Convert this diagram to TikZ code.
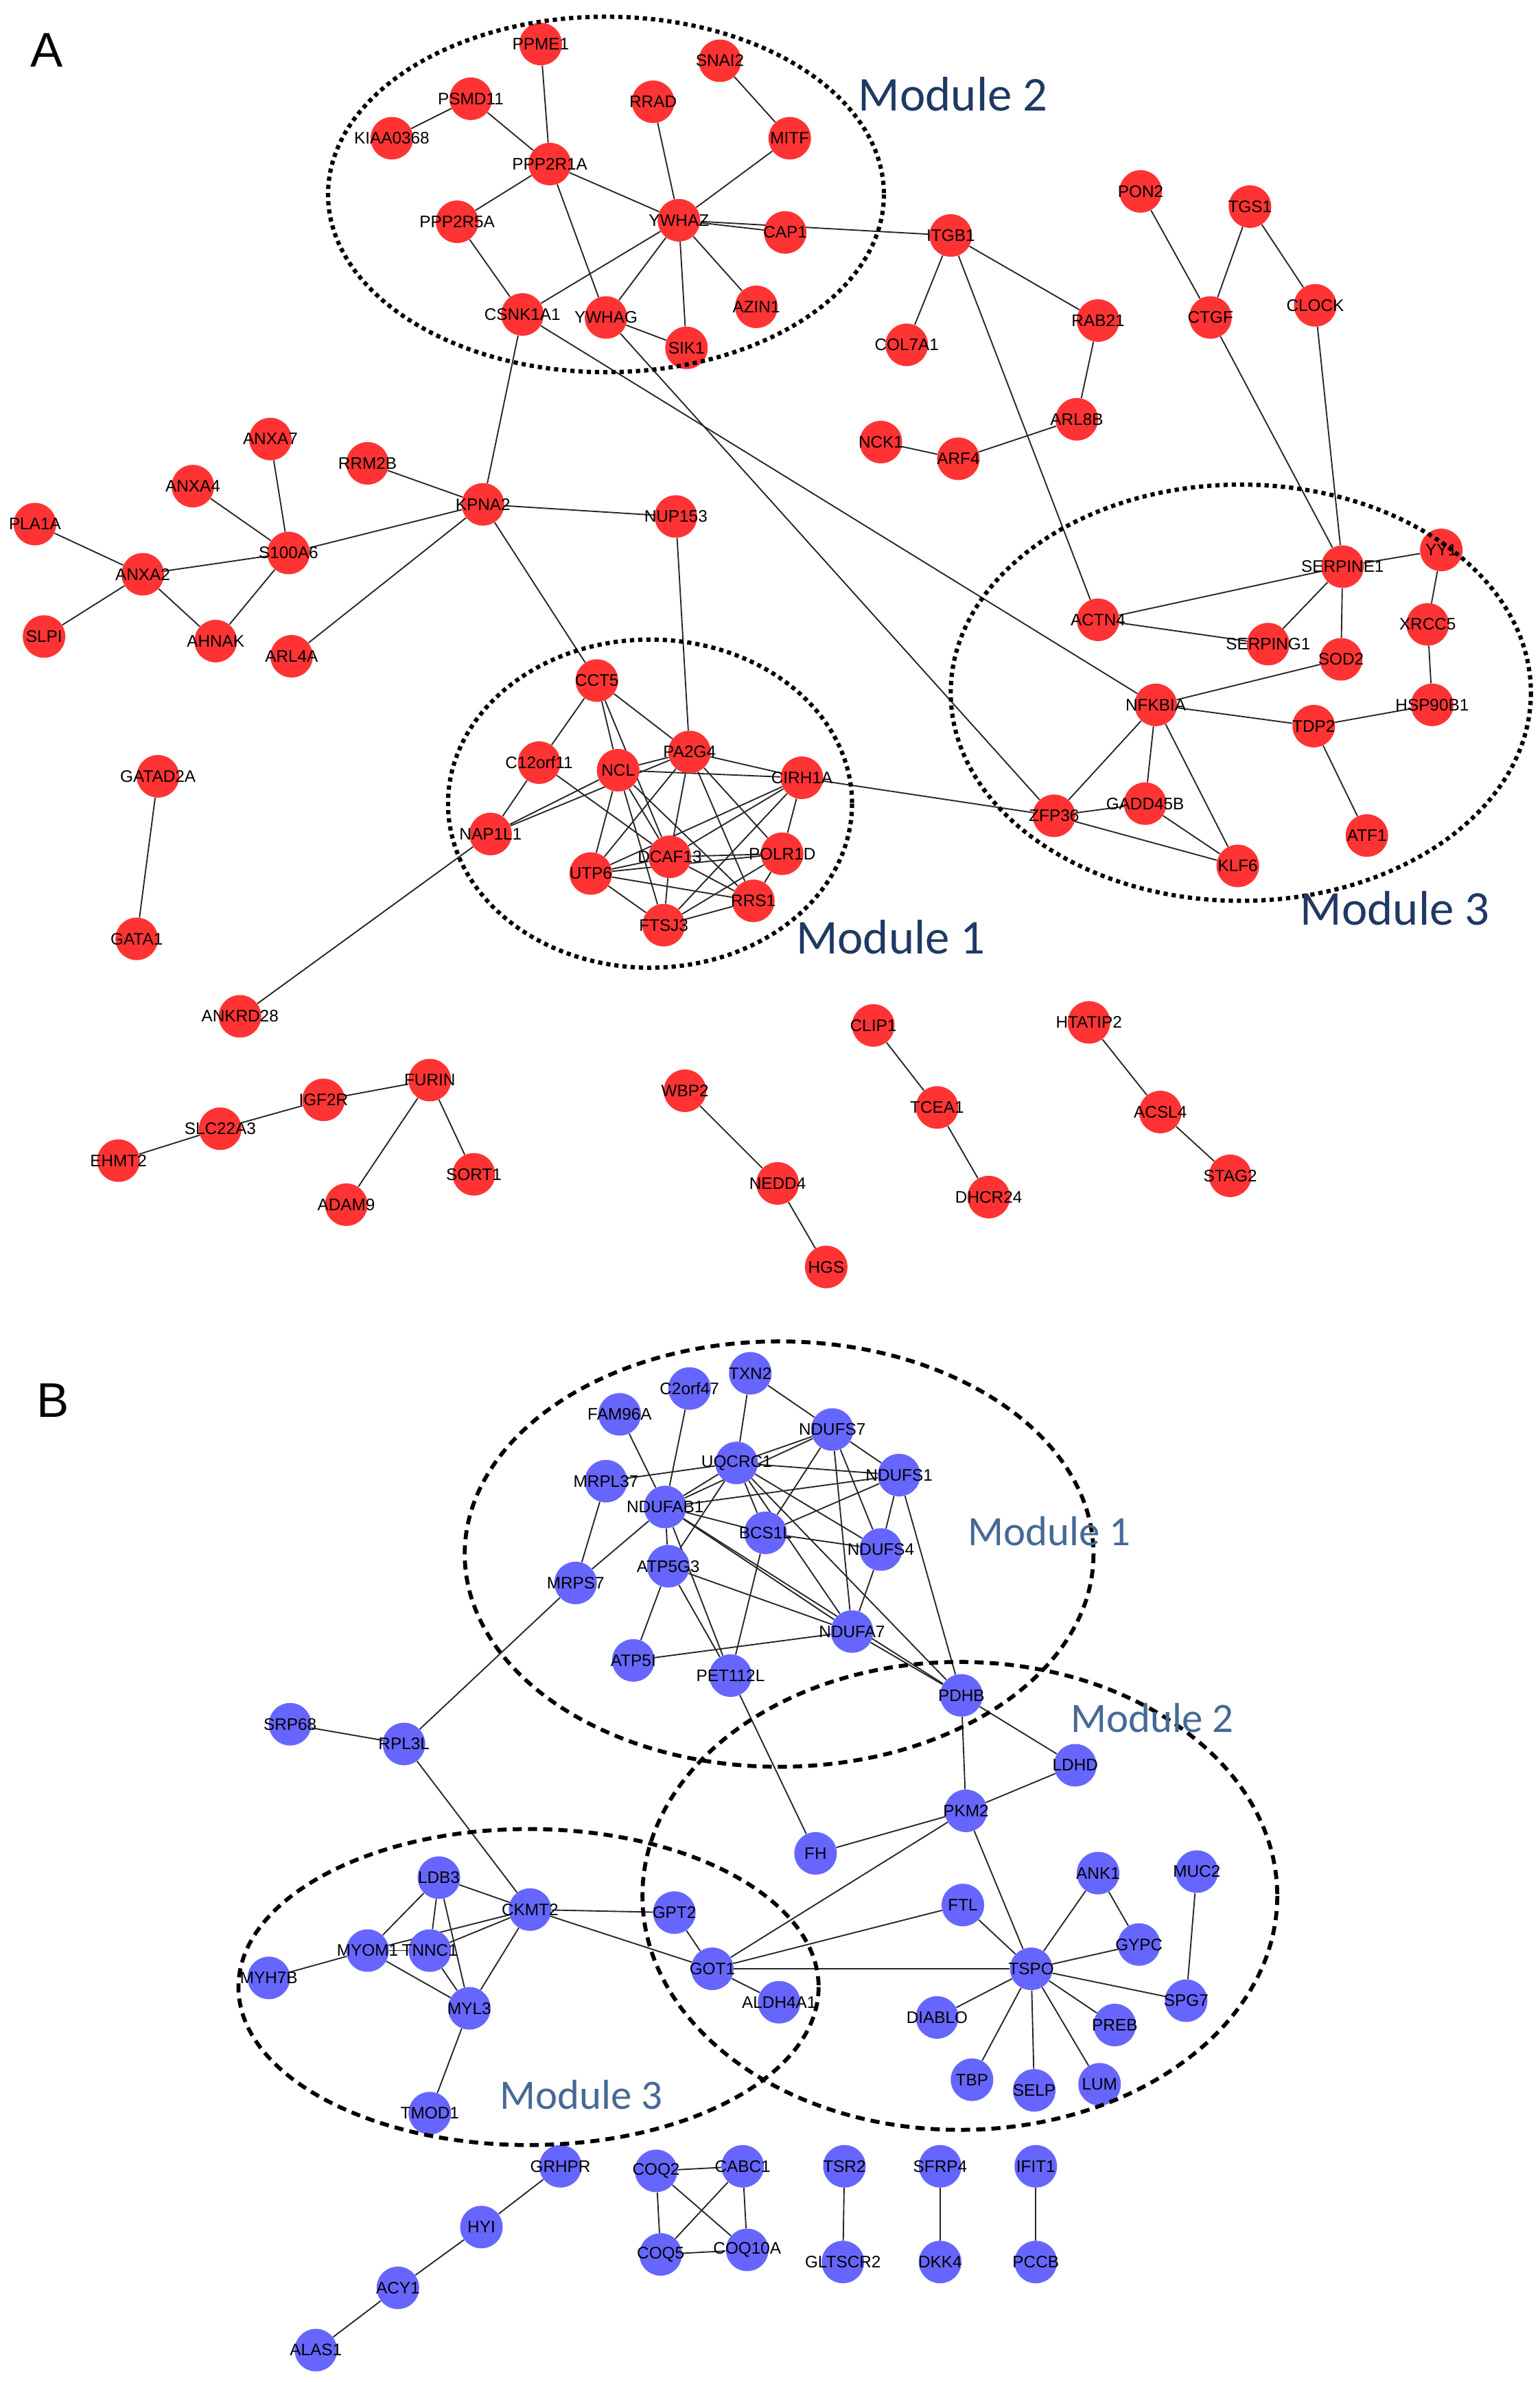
\documentclass[tikz,border=0pt]{standalone}
\usepackage{fontspec}
\setmainfont{Liberation Sans}
\newfontfamily\calibrifont{Carlito}
\usetikzlibrary{backgrounds}
\definecolor{genered}{RGB}{255,51,51}
\definecolor{geneblue}{RGB}{102,102,255}
\definecolor{colModA}{RGB}{31,56,100}
\definecolor{colModB}{RGB}{70,105,150}
\tikzset{
  gA/.style={circle, fill=genered, minimum size=28pt, inner sep=0pt},
  gB/.style={circle, fill=geneblue, minimum size=28pt, inner sep=0pt},
  lbl/.style={font=\fontsize{11}{11}\selectfont, inner sep=0pt, text=black},
  edge/.style={draw=black!85, line width=0.85pt},
  ringA/.style={draw=black, line width=2.8pt, dash pattern=on 2.8pt off 2.6pt},
  ringB/.style={draw=black, line width=2.6pt, dash pattern=on 6pt off 4pt},
  mlabA/.style={font=\calibrifont\fontsize{32}{32}\selectfont, text=colModA, anchor=west, inner sep=0pt},
  mlabB/.style={font=\calibrifont\fontsize{27.5}{27.5}\selectfont, text=colModB, anchor=west, inner sep=0pt},
  panel/.style={font=\fontsize{32}{32}\selectfont, inner sep=0pt}
}
\def\genesA{ppme1/356/29/PPME1, snai2/474/40/SNAI2, psmd11/310/65/PSMD11, rrad/430/67/RRAD,
kiaa/258/91/KIAA0368, mitf/520/91/MITF, ppp2r1a/362/108/PPP2R1A, ppp2r5a/301/146/PPP2R5A,
ywhaz/447/145/YWHAZ, cap1/517/153/CAP1, csnk/344/207/CSNK1A1, ywhag/399/209/YWHAG,
azin1/498/202/AZIN1, sik1/452/229/SIK1, itgb1/626/155/ITGB1, pon2/751/126/PON2,
tgs1/823/136/TGS1, ctgf/797/209/CTGF, clock/866/201/CLOCK, col7a1/597/227/COL7A1,
rab21/723/211/RAB21, arl8b/709/276/ARL8B, nck1/580/291/NCK1, arf4/631/302/ARF4,
anxa7/178/289/ANXA7, rrm2b/242/305/RRM2B, anxa4/127/320/ANXA4, kpna2/318/332/KPNA2,
pla1a/23/345/PLA1A, s100a6/190/364/S100A6, anxa2/94/378/ANXA2, slpi/29/419/SLPI,
ahnak/142/422/AHNAK, arl4a/192/432/ARL4A, nup153/445/340/NUP153,
cct5/393/448/CCT5, c12orf11/355/502/C12orf11, ncl/407/507/NCL, pa2g4/454/495/PA2G4,
cirh1a/528/512/CIRH1A, nap1l1/323/549/NAP1L1, utp6/389/575/UTP6, dcaf13/441/564/DCAF13,
polr1d/515/562/POLR1D, rrs1/496/593/RRS1, ftsj3/437/609/FTSJ3,
serpine1/884/373/SERPINE1, yy1/949/362/YY1, actn4/723/408/ACTN4, serping1/835/424/SERPING1,
sod2/883/434/SOD2, xrcc5/940/411/XRCC5, nfkbia/761/464/NFKBIA, tdp2/865/478/TDP2,
hsp90b1/943/464/HSP90B1, zfp36/694/537/ZFP36, gadd45b/754/529/GADD45B, klf6/815/570/KLF6,
atf1/900/550/ATF1, gatad2a/104/511/GATAD2A, gata1/90/618/GATA1, ankrd28/158/669/ANKRD28,
furin/283/711/FURIN, igf2r/213/724/IGF2R, slc22a3/145/743/SLC22A3, ehmt2/78/764/EHMT2,
sort1/312/773/SORT1, adam9/228/793/ADAM9, wbp2/451/718/WBP2, nedd4/512/779/NEDD4,
hgs/544/834/HGS, clip1/575/675/CLIP1, tcea1/617/729/TCEA1, dhcr24/651/788/DHCR24,
htatip2/717/673/HTATIP2, acsl4/764/732/ACSL4, stag2/810/774/STAG2}
\def\genesB{txn2/494/904/TXN2, c2orf47/454/914/C2orf47, fam96a/408/931/FAM96A,
ndufs7/548/941/NDUFS7, uqcrc1/485/963/UQCRC1, ndufs1/592/971/NDUFS1, mrpl37/399/975/MRPL37,
ndufab1/438/992/NDUFAB1, bcs1l/504/1009/BCS1L, ndufs4/580/1020/NDUFS4, atp5g3/440/1031/ATP5G3,
mrps7/379/1042/MRPS7, ndufa7/561/1074/NDUFA7, atp5i/417/1093/ATP5I, pet112l/481/1103/PET112L,
pdhb/633/1116/PDHB, srp68/191/1135/SRP68, rpl3l/266/1148/RPL3L, ldhd/708/1162/LDHD,
pkm2/636/1192/PKM2, fh/537/1220/FH, ank1/723/1233/ANK1, muc2/788/1232/MUC2,
ldb3/289/1236/LDB3, ckmt2/349/1257/CKMT2, gpt2/444/1259/GPT2, ftl/634/1254/FTL,
gypc/750/1280/GYPC, myom1/242/1284/MYOM1, tnnc1/283/1284/TNNC1, got1/469/1296/GOT1,
tspo/679/1296/TSPO, myh7b/177/1302/MYH7B, myl3/309/1322/MYL3, aldh4a1/513/1318/ALDH4A1,
spg7/781/1317/SPG7, diablo/617/1328/DIABLO, preb/734/1333/PREB, tbp/640/1369/TBP,
selp/681/1376/SELP, lum/724/1372/LUM, tmod1/283/1391/TMOD1, grhpr/369/1426/GRHPR,
hyi/317/1466/HYI, acy1/262/1506/ACY1, alas1/208/1547/ALAS1, coq2/432/1429/COQ2,
cabc1/489/1426/CABC1, coq5/435/1484/COQ5, coq10a/492/1481/COQ10A, tsr2/556/1426/TSR2,
gltscr2/555/1489/GLTSCR2, sfrp4/619/1426/SFRP4, dkk4/619/1489/DKK4, ifit1/682/1426/IFIT1,
pccb/682/1489/PCCB}
\def\edgesA{ppme1/ppp2r1a, psmd11/kiaa, psmd11/ppp2r1a, ppp2r1a/ppp2r5a, ppp2r1a/ywhaz,
ppp2r1a/ywhag, ppp2r5a/csnk, rrad/ywhaz, snai2/mitf, mitf/ywhaz, ywhaz/cap1, ywhaz/itgb1,
ywhaz/csnk, ywhaz/ywhag, ywhaz/sik1, ywhaz/azin1, ywhag/sik1, csnk/kpna2, csnk/nfkbia,
ywhag/zfp36, itgb1/col7a1, itgb1/rab21, itgb1/actn4, rab21/arl8b, arl8b/arf4, nck1/arf4,
pon2/ctgf, tgs1/ctgf, tgs1/clock, ctgf/serpine1, clock/serpine1,
pla1a/anxa2, slpi/anxa2, anxa2/s100a6, anxa2/ahnak, ahnak/s100a6, anxa4/s100a6,
anxa7/s100a6, s100a6/kpna2, rrm2b/kpna2, arl4a/kpna2, kpna2/nup153, kpna2/cct5, nup153/pa2g4,
cct5/c12orf11, cct5/ncl, cct5/dcaf13, cct5/pa2g4, c12orf11/nap1l1, c12orf11/dcaf13,
ncl/nap1l1, pa2g4/nap1l1, ncl/pa2g4, ncl/cirh1a, ncl/utp6, ncl/dcaf13, ncl/ftsj3, ncl/rrs1,
pa2g4/cirh1a, pa2g4/utp6, pa2g4/dcaf13, pa2g4/rrs1, pa2g4/polr1d, cirh1a/dcaf13,
cirh1a/utp6, cirh1a/polr1d, cirh1a/ftsj3, cirh1a/zfp36, utp6/dcaf13, utp6/polr1d,
utp6/rrs1, utp6/ftsj3, dcaf13/polr1d, dcaf13/rrs1, dcaf13/ftsj3, polr1d/rrs1,
polr1d/ftsj3, rrs1/ftsj3, nap1l1/ankrd28,
serpine1/yy1, serpine1/actn4, serpine1/serping1, serpine1/sod2, actn4/serping1,
yy1/xrcc5, xrcc5/hsp90b1, hsp90b1/tdp2, tdp2/nfkbia, tdp2/atf1, nfkbia/sod2,
nfkbia/zfp36, nfkbia/gadd45b, nfkbia/klf6, zfp36/gadd45b, zfp36/klf6, gadd45b/klf6,
gatad2a/gata1, ehmt2/slc22a3, slc22a3/igf2r, igf2r/furin, furin/sort1, furin/adam9,
wbp2/nedd4, nedd4/hgs, clip1/tcea1, tcea1/dhcr24, htatip2/acsl4, acsl4/stag2}
\def\edgesB{txn2/uqcrc1, txn2/ndufs7, c2orf47/ndufab1, fam96a/ndufab1, mrpl37/mrps7,
mrpl37/uqcrc1, uqcrc1/ndufs7, ndufab1/ndufs7, ndufab1/uqcrc1, uqcrc1/ndufs1,
uqcrc1/atp5g3, uqcrc1/bcs1l, uqcrc1/ndufs4, uqcrc1/ndufa7, uqcrc1/pdhb, ndufs7/ndufs1,
ndufs7/bcs1l, ndufs7/ndufs4, ndufs7/ndufa7, ndufs1/ndufab1, ndufs1/bcs1l, ndufs1/ndufs4,
ndufs1/pdhb, ndufab1/bcs1l, ndufab1/atp5g3, ndufab1/mrps7, ndufab1/ndufa7, ndufab1/pdhb,
ndufab1/pet112l, bcs1l/ndufs4, bcs1l/pet112l, ndufs4/ndufa7, atp5g3/atp5i,
atp5g3/ndufa7, atp5g3/pet112l, atp5i/ndufa7, ndufa7/pdhb, mrps7/rpl3l, srp68/rpl3l,
rpl3l/ckmt2, pet112l/fh, fh/pkm2, pdhb/pkm2, pdhb/ldhd, pkm2/ldhd, pkm2/got1, pkm2/tspo,
ftl/got1, ftl/tspo, got1/tspo, got1/gpt2, got1/aldh4a1, got1/ckmt2, ckmt2/gpt2,
ckmt2/ldb3, ckmt2/tnnc1, ckmt2/myom1, ckmt2/myl3, ldb3/myom1, ldb3/tnnc1, ldb3/myl3,
myom1/tnnc1, myom1/myl3, myom1/myh7b, tnnc1/myl3, myl3/tmod1, tspo/ank1, ank1/gypc,
tspo/gypc, tspo/spg7, muc2/spg7, tspo/preb, tspo/lum, tspo/selp, tspo/tbp, tspo/diablo,
grhpr/hyi, hyi/acy1, acy1/alas1, coq2/cabc1, coq2/coq5, coq2/coq10a, cabc1/coq5,
cabc1/coq10a, coq5/coq10a, tsr2/gltscr2, sfrp4/dkk4, ifit1/pccb}
\begin{document}
\begin{tikzpicture}[x=1pt,y=-1pt]
\useasboundingbox (0,0) rectangle (1014,1568);
% gene nodes
\foreach \n/\x/\y/\t in \genesA {\node[gA] (\n) at (\x,\y) {};}
\foreach \n/\x/\y/\t in \genesB {\node[gB] (\n) at (\x,\y) {};}
% connectors behind the nodes
\begin{scope}[on background layer]
  \fill[white] (0,0) rectangle (1014,1568);
  \foreach \a/\b in \edgesA {\draw[edge] (\a) -- (\b);}
  \foreach \a/\b in \edgesB {\draw[edge] (\a) -- (\b);}
\end{scope}
% gene labels on top
\foreach \n/\x/\y/\t in \genesA {\node[lbl] (\n-t) at (\n.center) {\t};}
\foreach \n/\x/\y/\t in \genesB {\node[lbl] (\n-t) at (\n.center) {\t};}
% module rings
\draw[ringA] (399,128) ellipse [x radius=183, y radius=117];
\draw[ringA] (428,529) ellipse [x radius=133, y radius=108];
\draw[ringA] (817,456) ellipse [x radius=191, y radius=137];
\draw[ringB] (513,1023) ellipse [x radius=207, y radius=140];
\draw[ringB] (632,1248) ellipse [x radius=209, y radius=154];
\draw[ringB] (348,1308) ellipse [x radius=191, y radius=104];
% module labels
\node[mlabA] (mA2) at (565,62) {Module 2};
\node[mlabA] (mA1) at (524,617) {Module 1};
\node[mlabA] (mA3) at (856,598) {Module 3};
\node[mlabB] (mB1) at (637,1008) {Module 1};
\node[mlabB] (mB2) at (705,1131) {Module 2};
\node[mlabB] (mB3) at (329,1379) {Module 3};
% panel letters
\node[panel] (pA) at (31,33) {A};
\node[panel] (pB) at (35,922) {B};
\end{tikzpicture}
\end{document}
